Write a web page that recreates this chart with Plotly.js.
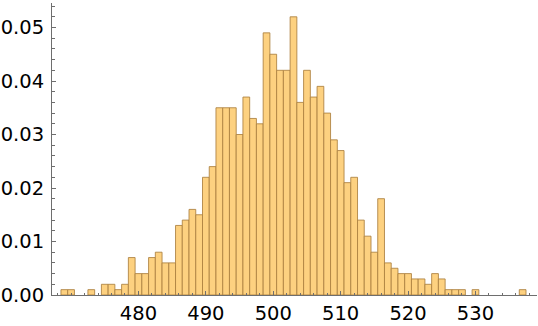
<!DOCTYPE html>
<html>
<head>
<meta charset="utf-8">
<script src="https://cdn.plot.ly/plotly-3.0.1.min.js"></script>
<style>
html,body{margin:0;padding:0;background:#fff;}
#chart{width:538px;height:326px;}
</style>
</head>
<body>
<div id="chart"></div>
<script>
// Histogram bins (centre of each unit-wide bin) and probability density
const binCenters = [469, 470, 473, 475, 476, 477, 478, 479, 480, 481, 482, 483, 484, 485,
  486, 487, 488, 489, 490, 491, 492, 493, 494, 495, 496, 497, 498, 499, 500, 501, 502,
  503, 504, 505, 506, 507, 508, 509, 510, 511, 512, 513, 514, 515, 516, 517, 518, 519,
  520, 521, 522, 523, 524, 525, 526, 527, 528, 530, 537];
const density = [0.001, 0.001, 0.001, 0.002, 0.002, 0.001, 0.002, 0.007, 0.004, 0.004, 0.007, 0.008, 0.006, 0.006,
  0.013, 0.014, 0.016, 0.015, 0.022, 0.024, 0.035, 0.035, 0.035, 0.030, 0.037, 0.033, 0.032, 0.049, 0.045, 0.042, 0.042,
  0.052, 0.036, 0.042, 0.037, 0.039, 0.034, 0.029, 0.027, 0.021, 0.022, 0.014, 0.011, 0.008, 0.018, 0.006, 0.005, 0.004,
  0.004, 0.003, 0.003, 0.002, 0.004, 0.003, 0.001, 0.001, 0.001, 0.001, 0.001];
const xTickVals = [480, 490, 500, 510, 520, 530];
const yTickVals = [0, 0.01, 0.02, 0.03, 0.04, 0.05];

const axisColor = '#6e6e6e';
const trace = {
  type: 'bar',
  x: binCenters,
  y: density,
  width: 1,
  marker: {
    color: 'rgb(253,209,128)',
    line: {color: 'rgba(172,128,64,0.85)', width: 1}
  },
  hoverinfo: 'skip'
};

const layout = {
  width: 538, height: 326,
  margin: {l: 52, r: 1, t: 3, b: 31, pad: 0},
  paper_bgcolor: '#fff', plot_bgcolor: '#fff',
  showlegend: false,
  bargap: 0,
  font: {family: 'DejaVu Sans', size: 19.5, color: '#000'},
  xaxis: {
    range: [467.17, 539.13],
    showline: true, linecolor: axisColor, linewidth: 1,
    showgrid: false, zeroline: false,
    tickmode: 'array', tickvals: xTickVals, ticktext: xTickVals.map(String),
    ticks: 'inside', ticklen: 4, tickwidth: 1, tickcolor: axisColor,
    ticklabelstandoff: 1,
    minor: {dtick: 2, tick0: 0, ticks: 'inside', ticklen: 2.5, tickwidth: 1, tickcolor: axisColor, showgrid: false},
    fixedrange: true
  },
  yaxis: {
    range: [0, 0.05458],
    showline: true, linecolor: axisColor, linewidth: 1,
    showgrid: false, zeroline: false,
    tickmode: 'array', tickvals: yTickVals, ticktext: yTickVals.map(v => v.toFixed(2)),
    ticks: 'inside', ticklen: 4, tickwidth: 1, tickcolor: axisColor,
    ticklabelstandoff: 3,
    minor: {dtick: 0.002, tick0: 0, ticks: 'inside', ticklen: 2.5, tickwidth: 1, tickcolor: axisColor, showgrid: false},
    fixedrange: true
  }
};

Plotly.newPlot('chart', [trace], layout, {staticPlot: true, displayModeBar: false});
</script>
</body>
</html>
